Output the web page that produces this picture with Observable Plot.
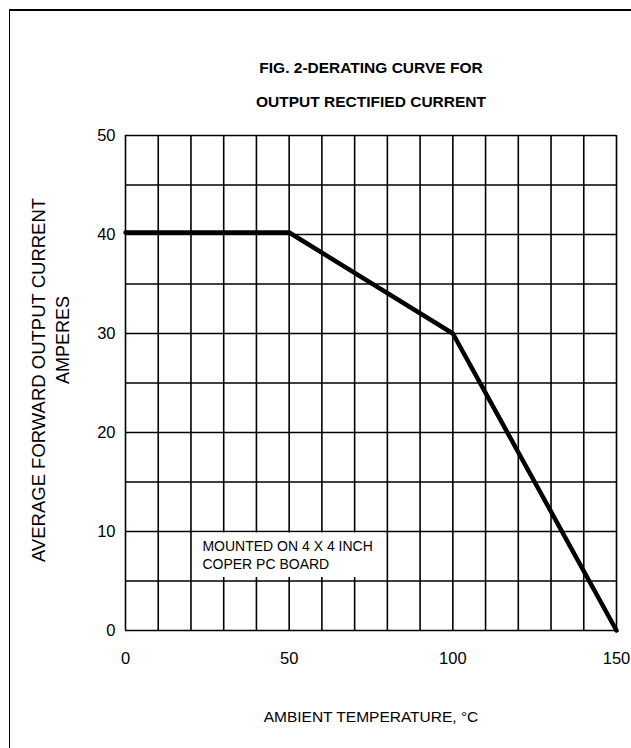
<!DOCTYPE html>
<html>
<head>
<meta charset="utf-8">
<script src="https://cdn.jsdelivr.net/npm/d3@7"></script>
<script src="https://cdn.jsdelivr.net/npm/@observablehq/plot@0.6"></script>
<style>
  html, body { margin: 0; padding: 0; background: #fff; }
  #wrap { position: relative; width: 631px; height: 748px; overflow: hidden; }
  #border { position: absolute; left: 9px; top: 9px; width: 700px; height: 800px;
            border-top: 2px solid #000; border-left: 1.5px solid #000; box-sizing: border-box; pointer-events: none; }
</style>
</head>
<body>
<div id="wrap"><div id="border"></div></div>
<script>
// ---- data ----
const temperature = [0, 50, 100, 150];
const current = [40.2, 40.2, 30, 0];
const xTicks = [0, 50, 100, 150];
const yTicks = [0, 10, 20, 30, 40, 50];
const xGrid = [0, 10, 20, 30, 40, 50, 60, 70, 80, 90, 100, 110, 120, 130, 140, 150];
const yGrid = [0, 5, 10, 15, 20, 25, 30, 35, 40, 45, 50];
const titleLines = ["FIG. 2-DERATING CURVE FOR", "OUTPUT RECTIFIED CURRENT"];
const yLabelLines = ["AVERAGE FORWARD OUTPUT CURRENT", "AMPERES"];
const xLabel = "AMBIENT TEMPERATURE, \u00B0C";
const noteLines = ["MOUNTED ON 4 X 4 INCH", "COPER PC BOARD"];
const noteX = 23.5;
const noteY = [8.0, 6.25];
const noteBox = {x1: 20.8, x2: 79, y1: 5.35, y2: 9.85};

const curve = temperature.map((t, i) => ({t, c: current[i]}));
const notes = noteLines.map((s, i) => ({s, x: noteX, y: noteY[i]}));

const font = "'Liberation Sans', Arial, Helvetica, sans-serif";

const chart = Plot.plot({
  width: 631,
  height: 748,
  marginLeft: 125,
  marginRight: 15,
  marginTop: 135,
  marginBottom: 118,
  style: {fontFamily: font, fontSize: "15px", background: "transparent", color: "#000"},
  x: {domain: [0, 150]},
  y: {domain: [0, 50]},
  marks: [
    Plot.ruleX(xGrid, {stroke: "#000", strokeWidth: 1.6}),
    Plot.ruleY(yGrid, {stroke: "#000", strokeWidth: 1.6}),
    Plot.rect([noteBox], {x1: "x1", x2: "x2", y1: "y1", y2: "y2", fill: "#fff"}),
    Plot.text(notes, {x: "x", y: "y", text: "s", textAnchor: "start", lineAnchor: "bottom", fontSize: 14, fill: "#000"}),
    Plot.line(curve, {x: "t", y: "c", stroke: "#000", strokeWidth: 4.5, strokeLinejoin: "miter"}),
    Plot.axisX(xTicks, {tickSize: 0, tickPadding: 22, fontSize: 16.5, label: null}),
    Plot.axisY(yTicks, {tickSize: 0, tickPadding: 10, fontSize: 16.5, label: null}),
    Plot.text([titleLines[0]], {frameAnchor: "top", dy: -67, lineAnchor: "middle", textAnchor: "middle", fontWeight: "bold", fontSize: 15.5, fill: "#000"}),
    Plot.text([titleLines[1]], {frameAnchor: "top", dy: -33, lineAnchor: "middle", textAnchor: "middle", fontWeight: "bold", fontSize: 15.5, fill: "#000"}),
    Plot.text([yLabelLines[0]], {frameAnchor: "left", dx: -86, dy: -3, rotate: -90, lineAnchor: "middle", textAnchor: "middle", fontSize: 18.5, fill: "#000"}),
    Plot.text([yLabelLines[1]], {frameAnchor: "left", dx: -62, dy: -43, rotate: -90, lineAnchor: "middle", textAnchor: "middle", fontSize: 18, fill: "#000"}),
    Plot.text([xLabel], {frameAnchor: "bottom", dy: 87, lineAnchor: "middle", textAnchor: "middle", fontSize: 15.5, fill: "#000"})
  ]
});
document.getElementById("wrap").appendChild(chart);
chart.style.position = "absolute";
chart.style.left = "0px";
chart.style.top = "0px";
</script>
</body>
</html>
